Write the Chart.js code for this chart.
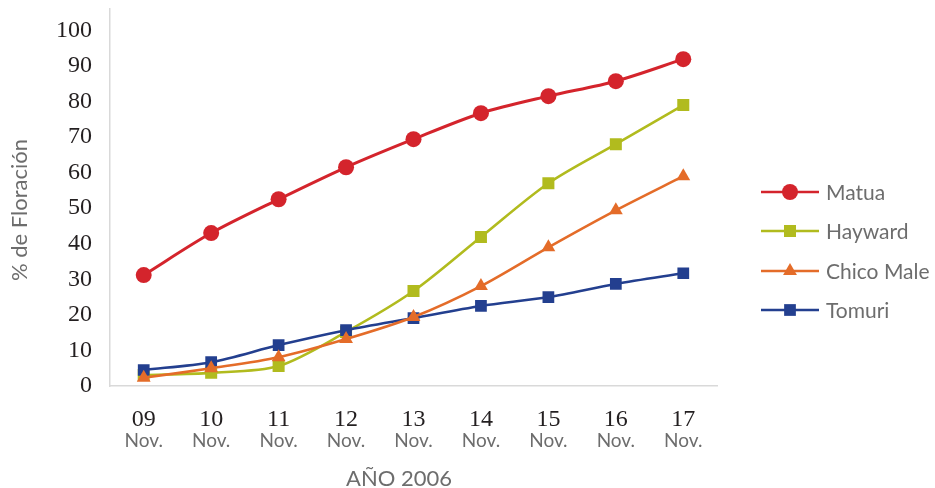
<!DOCTYPE html>
<html>
<head>
<meta charset="utf-8">
<script src="https://cdn.jsdelivr.net/npm/chart.js@4/dist/chart.umd.min.js"></script>
<style>
html,body{margin:0;padding:0;background:#fff;}
#wrap{width:935px;height:488px;position:relative;}
</style>
</head>
<body>
<div id="wrap"><canvas id="c" width="935" height="488"></canvas></div>
<script>
const categories = ['09','10','11','12','13','14','15','16','17'];
const monthLabels = ['Nov.','Nov.','Nov.','Nov.','Nov.','Nov.','Nov.','Nov.','Nov.'];
const yTickValues = [0,10,20,30,40,50,60,70,80,90,100];
const seriesNames = ['Matua','Hayward','Chico Male','Tomuri'];
const matua   = [31.2, 43.0, 52.5, 61.5, 69.4, 76.7, 81.5, 85.7, 91.9];
const hayward = [3.1, 3.7, 5.6, 15.2, 26.7, 41.9, 57.0, 68.0, 79.0];
const chico   = [2.3, 5.0, 8.1, 13.2, 19.4, 28.1, 39.0, 49.4, 59.0];
const tomuri  = [4.5, 6.7, 11.5, 15.7, 19.1, 22.5, 25.0, 28.7, 31.7];
const xTitle = 'AÑO 2006';
const yTitle = '% de Floración';

const colors = ['#d4242c','#b1bb1e','#e46c29','#233f8f'];
const styles = ['circle','rect','triangle','rect'];
const radii = [8, 8.5, 8, 8.3];
const orders = [3, 2, 0, 1];
const values = [matua, hayward, chico, tomuri];

const datasets = seriesNames.map((n,i)=>({
  label: n,
  data: values[i],
  borderColor: colors[i],
  backgroundColor: colors[i],
  pointBackgroundColor: colors[i],
  pointBorderColor: colors[i],
  pointBorderWidth: 0,
  pointStyle: styles[i],
  pointRadius: radii[i],
  borderWidth: i===0 ? 3 : 2.6,
  tension: 0.3,
  order: orders[i],
  fill: false
}));

const legendPlugin = {
  id: 'lineLegend',
  afterDraw(chart){
    const ctx = chart.ctx;
    const ys = [192, 231, 271, 310];
    ctx.save();
    seriesNames.forEach((n,i)=>{
      const y = ys[i];
      ctx.strokeStyle = colors[i];
      ctx.lineWidth = 2.6;
      ctx.beginPath();
      ctx.moveTo(761, y); ctx.lineTo(819, y);
      ctx.stroke();
      ctx.fillStyle = colors[i];
      Chart.helpers.drawPoint(ctx, {pointStyle: styles[i], radius: radii[i], rotation: 0, borderWidth: 0}, 790, y);
      ctx.fillStyle = '#6d6d6d';
      ctx.font = '21px Lato';
      ctx.textAlign = 'left';
      ctx.textBaseline = 'middle';
      ctx.fillText(n, 826, y + 1);
    });
    // axis titles
    ctx.fillStyle = '#6d6d6d';
    ctx.font = '22px Lato';
    ctx.textAlign = 'center';
    ctx.textBaseline = 'middle';
    ctx.fillText(xTitle, 399, 479);
    ctx.translate(20, 210);
    ctx.rotate(-Math.PI/2);
    ctx.fillText(yTitle, 0, 0);
    ctx.restore();
  }
};

new Chart(document.getElementById('c'), {
  type: 'line',
  data: { labels: categories, datasets },
  plugins: [legendPlugin],
  options: {
    responsive: false,
    animation: false,
    layout: { padding: { left: 0, top: 9, right: 218, bottom: 0 } },
    plugins: { legend: { display: false }, tooltip: { enabled: false } },
    scales: {
      x: {
        type: 'category',
        position: 'bottom',
        offset: true,
        grid: { display: false, drawTicks: false },
        border: { display: true, color: '#d9d9d9', width: 1.5 },
        ticks: { font: { family: 'Liberation Serif', size: 24 }, color: '#231f20', padding: 19, maxRotation: 0, autoSkip: false },
        afterFit(s){ s.height = 40; s.paddingLeft = 0; s.paddingRight = 0; }
      },
      x2: {
        type: 'category',
        position: 'bottom',
        labels: monthLabels,
        offset: true,
        grid: { display: false, drawTicks: false },
        border: { display: false },
        ticks: { font: { family: 'Lato', size: 19 }, color: '#6d6d6d', padding: 3, maxRotation: 0, autoSkip: false },
        afterFit(s){ s.height = 62; s.paddingLeft = 0; s.paddingRight = 0; }
      },
      y: {
        min: 0,
        max: 106,
        grid: { display: false, drawTicks: false },
        border: { display: true, color: '#d9d9d9', width: 1.5 },
        ticks: { stepSize: 10, font: { family: 'Liberation Serif', size: 24 }, color: '#231f20', padding: 18 },
        afterBuildTicks(s){ s.ticks = yTickValues.map(v=>({value:v})); },
        afterFit(s){ s.width = 110; s.paddingTop = 0; s.paddingBottom = 0; }
      }
    }
  }
});
</script>
</body>
</html>
